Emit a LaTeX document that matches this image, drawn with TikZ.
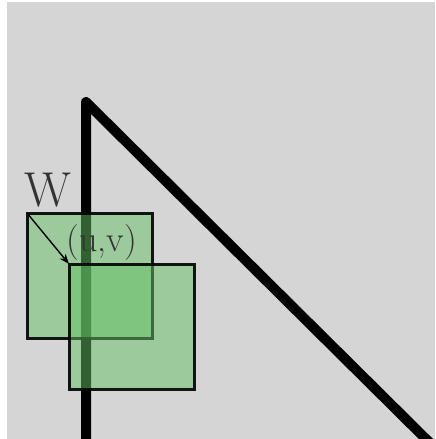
\documentclass[tikz,border=0pt]{standalone}
\usepackage{tikz}
\usetikzlibrary{arrows.meta, positioning}
\definecolor{bgray}{RGB}{213, 213, 213}
\definecolor{winfill}{RGB}{100, 192, 100}

\begin{document}
\begin{tikzpicture}[x=0.5pt, y=-0.5pt,
		edge/.style={line width=5pt, line join=round, color=black},
		win/.style={draw=black, line width=1.5pt, fill=winfill, fill opacity=0.5, draw opacity=0.9},
		offset/.style={-{Stealth[length=5pt]}, line width=0.7pt},
		lbl/.style={inner sep=0pt, text=black!80}
		]
		% Fond
		\useasboundingbox (0,0) rectangle (435,439);
		\fill[white] (0,0) rectangle (435,439);
		\fill[bgray] (7,2) rectangle (435,439);
		
		% Bord du triangle
		\begin{scope}
			\clip (7,2) rectangle (435,439);
			\coordinate (apex) at (86,102);
			\draw[edge] (86,445) -- (apex) -- (432,445);
		\end{scope}
		
		% Fenetres
		\draw[win] (27,213) rectangle (152,338);
		\coordinate (w1) at (27,213);
		\draw[win] (69,264) rectangle (194,389);
		\coordinate (w2) at (69,264);
		
		% Decalage
		\draw[offset] (w1) -- (w2);
		\node[lbl, font=\fontsize{24.5}{24}\selectfont, anchor=base west] (wlab) at (24,206) {W};
		\node[lbl, font=\fontsize{18}{18}\selectfont, anchor=base west] (uv) at (66,251) {(u,v)};
	\end{tikzpicture}
\end{document}
